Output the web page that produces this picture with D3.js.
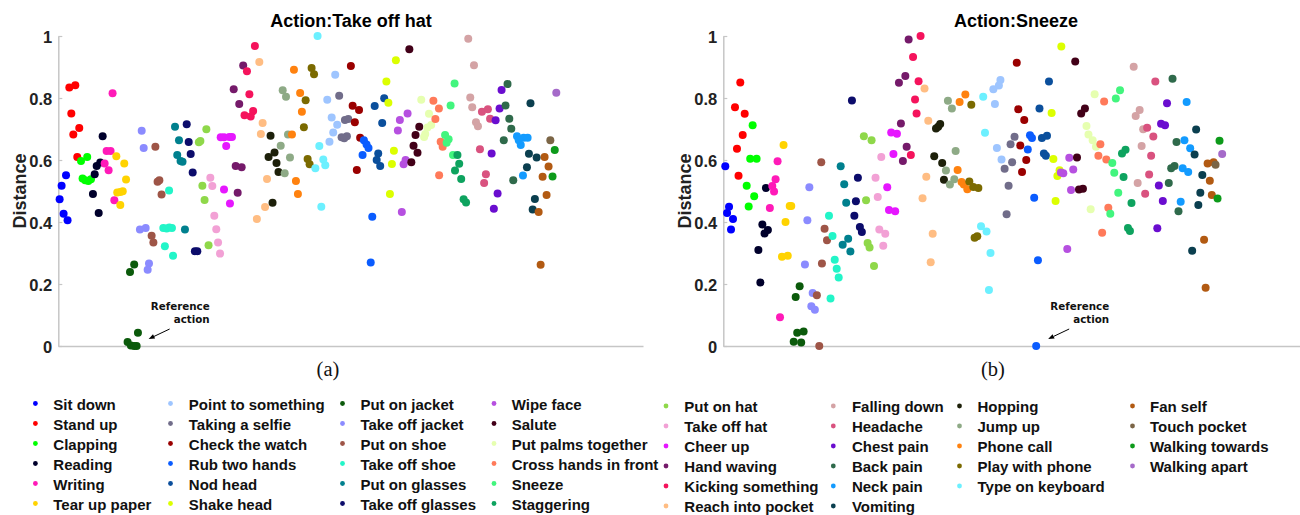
<!DOCTYPE html>
<html>
<head>
<meta charset="utf-8">
<script src="https://cdn.jsdelivr.net/npm/d3@7"></script>
<style>
  body { margin: 0; background: #fff; }
  svg { display: block; }
</style>
</head>
<body>
<svg id="chart" width="1300" height="515"></svg>
<script>
// Action classes, in legend order (column by column)
const actions = [
  "Sit down", "Stand up", "Clapping", "Reading", "Writing", "Tear up paper",
  "Point to something", "Taking a selfie", "Check the watch", "Rub two hands", "Nod head", "Shake head",
  "Put on jacket", "Take off jacket", "Put on shoe", "Take off shoe", "Put on glasses", "Take off glasses",
  "Wipe face", "Salute", "Put palms together", "Cross hands in front", "Sneeze", "Staggering",
  "Put on hat", "Take off hat", "Cheer up", "Hand waving", "Kicking something", "Reach into pocket",
  "Falling down", "Headache", "Chest pain", "Back pain", "Neck pain", "Vomiting",
  "Hopping", "Jump up", "Phone call", "Play with phone", "Type on keyboard",
  "Fan self", "Touch pocket", "Walking towards", "Walking apart"
];

const colors = [
  "#0000ff", "#ff0000", "#00ff00", "#00002b", "#ff1ab8", "#ffd300",
  "#9ec5ff", "#716d8a", "#9a0000", "#0a5cff", "#0b4f9c", "#dcff00",
  "#0b5a0b", "#8b8bff", "#9e5547", "#22f5c8", "#00808e", "#0c0c6b",
  "#b650e0", "#420018", "#e6ffb0", "#ff7a5a", "#42f57e", "#0ea35f",
  "#8fd84a", "#f2a1d5", "#e617ff", "#751a6a", "#f5135c", "#ffbd83",
  "#d4a3a5", "#d9527f", "#6a0dcf", "#2f6a4b", "#139bff", "#0b3f4f",
  "#1d200a", "#8eaa86", "#ff820f", "#7b6a00", "#6cf0ff",
  "#b25a12", "#7b6546", "#0d9a1a", "#a56ac9"
];

// Number of legend entries in each legend column
const legendColumns = [6, 6, 6, 6, 6, 6, 5, 4];

const yTicks = [0, 0.2, 0.4, 0.6, 0.8, 1];

// Distances to "Take off hat": one list of [sample, distance] per action
const distTakeOffHat = [
  [[0.6,.473],[1.5,.517],[3.5,.551],[2.4,.427],[4.2,.406]],
  [[5.0,.834],[7.7,.841],[5.9,.750],[6.8,.682],[9.5,.703],[8.6,.610]],
  [[10.3,.597],[13.1,.610],[11.0,.540],[12.2,.535],[13.6,.532],[14.8,.538]],
  [[15.7,.490],[16.5,.554],[17.4,.581],[18.3,.429],[19.0,.592],[20.1,.677]],
  [[21.0,.589],[21.9,.629],[23.7,.629],[22.8,.567],[24.6,.815],[25.4,.470]],
  [[26.3,.612],[26.7,.495],[28.1,.455],[28.1,.497],[29.2,.499],[29.9,.589],[30.7,.537]],
  [[125.5,.875],[121.9,.794],[123.9,.737],[126.4,.714],[124.6,.689],[122.9,.659]],
  [[127.3,.807],[129.9,.729],[131.4,.732],[128.4,.673],[129.6,.670],[130.8,.677]],
  [[132.6,.903],[133.4,.775],[136.3,.761],[134.4,.722],[136.8,.672],[135.3,.568]],
  [[138.5,.664],[139.7,.650],[140.6,.639],[137.9,.616],[142.3,.417],[141.6,.269]],
  [[143.4,.774],[147.7,.799],[146.8,.719],[145.0,.621],[144.3,.600],[145.9,.581]],
  [[153.0,.922],[148.7,.853],[149.6,.785],[152.1,.630],[151.2,.587],[150.3,.490]],
  [[32.5,.239],[34.4,.263],[31.4,.013],[32.9,.002],[34.4,0],[35.5,0],[36.1,.043]],
  [[37.8,.694],[38.7,.639],[37.0,.376],[39.6,.381],[41.1,.266],[40.5,.246]],
  [[44.0,.643],[45.0,.530],[45.8,.535],[46.8,.489],[42.3,.356],[43.1,.334]],
  [[47.6,.381],[49.1,.379],[50.3,.382],[51.5,.381],[48.3,.322],[52.0,.291],[50.2,.502]],
  [[52.9,.707],[54.7,.664],[53.9,.616],[55.4,.597],[56.3,.594],[57.4,.376]],
  [[58.2,.715],[59.1,.658],[60.0,.619],[60.9,.560],[61.9,.306],[63.0,.306]],
  [[158.3,.750],[154.8,.729],[153.9,.695],[157.4,.600],[156.5,.586],[155.7,.432]],
  [[159.1,.957],[163.6,.707],[161.9,.681],[161.0,.646],[162.8,.623],[160.0,.593]],
  [[164.5,.794],[168.0,.749],[169.0,.713],[167.3,.705],[166.3,.684],[165.8,.674]],
  [[170.0,.791],[172.5,.766],[170.9,.732],[173.3,.659],[174.2,.643],[172.6,.551]],
  [[179.6,.847],[177.8,.776],[175.3,.681],[176.9,.667],[176.0,.656],[178.9,.616]],
  [[180.9,.616],[181.7,.588],[179.8,.566],[182.6,.539],[183.7,.473],[184.8,.463]],
  [[63.7,.657],[64.4,.661],[67.1,.699],[65.3,.517],[66.3,.471],[68.1,.325]],
  [[68.9,.543],[69.8,.516],[70.7,.420],[71.6,.377],[72.4,.334],[73.3,.298]],
  [[73.6,.673],[75.1,.673],[77.5,.674],[78.7,.674],[76.1,.645],[75.1,.505],[77.8,.460]],
  [[79.5,.828],[82.0,.781],[83.8,.905],[80.4,.581],[83.1,.577],[81.3,.494]],
  [[89.1,.968],[85.5,.886],[86.6,.812],[84.4,.744],[88.3,.758],[87.2,.740]],
  [[91.1,.916],[92.6,.719],[91.8,.684],[94.6,.539],[93.7,.448],[90.0,.410]],
  [[185.8,.991],[188.4,.906],[186.7,.802],[187.6,.770],[189.3,.722],[190.2,.709]],
  [[192.0,.756],[194.7,.764],[195.7,.733],[191.1,.635],[193.8,.554],[193.0,.526]],
  [[200.9,.826],[200.0,.766],[198.2,.728],[196.4,.621],[199.1,.492],[197.4,.443]],
  [[203.6,.845],[202.7,.776],[204.4,.733],[205.3,.701],[201.9,.664],[206.2,.535]],
  [[207.9,.677],[210.9,.672],[212.7,.672],[209.6,.648],[208.7,.664],[210.6,.550]],
  [[214.0,.783],[213.3,.620],[216.8,.608],[212.4,.577],[216.0,.474],[215.0,.440]],
  [[96.2,.678],[95.3,.610],[98.0,.624],[98.9,.590],[99.8,.561],[97.1,.462]],
  [[101.7,.825],[103.2,.804],[100.8,.646],[104.1,.682],[105.0,.608],[102.6,.557]],
  [[106.8,.891],[109.6,.816],[110.4,.756],[105.9,.682],[107.7,.532],[108.6,.490]],
  [[114.8,.897],[115.9,.877],[112.1,.793],[111.3,.706],[113.0,.603],[113.9,.586]],
  [[117.5,1.0],[118.3,.645],[116.5,.573],[120.1,.602],[121.0,.583],[119.2,.449]],
  [[220.4,.610],[222.2,.579],[219.5,.546],[221.3,.487],[217.7,.432],[218.6,.262]],
  [[223.0,.664]],
  [[225.0,.632],[224.0,.547]],
  [[225.7,.817]]
];

// Distances to "Sneeze": one list of [sample, distance] per action
const distSneeze = [
  [[0.9,.580],[2.6,.449],[1.7,.429],[4.4,.410],[3.5,.376]],
  [[7.7,.850],[5.3,.770],[9.7,.749],[8.8,.681],[6.2,.636],[6.9,.549]],
  [[13.3,.712],[12.2,.604],[15.1,.604],[10.6,.517],[14.0,.483],[11.5,.450]],
  [[19.3,.510],[17.7,.392],[20.2,.374],[18.7,.363],[15.9,.310],[16.8,.205]],
  [[24.6,.596],[23.7,.538],[22.2,.516],[23.0,.498],[21.1,.445],[25.7,.093]],
  [[27.3,.648],[30.1,.452],[30.8,.452],[28.2,.400],[26.6,.288],[29.2,.291]],
  [[125.6,.858],[124.9,.840],[122.4,.828],[123.1,.781],[124.0,.639],[126.1,.602]],
  [[132.0,.675],[130.2,.651],[130.9,.593],[127.5,.572],[129.3,.517],[128.4,.425]],
  [[133.0,.914],[133.7,.764],[136.4,.729],[134.6,.647],[137.3,.600],[135.4,.561]],
  [[139.0,.680],[139.9,.671],[138.0,.634],[140.9,.478],[142.6,.277],[141.8,0]],
  [[147.6,.853],[143.3,.766],[144.4,.671],[146.7,.678],[145.3,.621],[146.2,.614]],
  [[153.2,.966],[148.8,.752],[149.6,.603],[152.4,.567],[151.4,.548],[150.6,.468]],
  [[34.6,.193],[32.8,.158],[33.5,.043],[36.4,.047],[31.9,.014],[35.3,.011]],
  [[39.0,.512],[38.1,.406],[37.0,.263],[40.5,.171],[39.9,.128],[41.5,.117]],
  [[44.4,.593],[45.9,.378],[47.0,.341],[44.7,.266],[42.4,.164],[43.5,0]],
  [[47.9,.420],[49.5,.355],[50.5,.278],[51.4,.249],[52.3,.221],[48.6,.153]],
  [[53.2,.580],[54.8,.522],[55.7,.462],[56.6,.346],[54.1,.327],[57.6,.305]],
  [[58.3,.792],[61.0,.543],[60.1,.467],[59.4,.420],[61.9,.384],[62.8,.368]],
  [[156.8,.607],[158.6,.569],[153.0,.560],[154.1,.557],[157.6,.503],[155.9,.313]],
  [[159.5,.918],[163.9,.766],[162.2,.750],[160.3,.608],[161.2,.505],[163.0,.507]],
  [[168.3,.812],[164.6,.710],[165.5,.682],[167.4,.664],[168.9,.643],[166.5,.441]],
  [[172.6,.789],[170.9,.651],[170.0,.614],[173.6,.602],[174.5,.446],[171.7,.365]],
  [[179.8,.825],[177.9,.798],[176.3,.590],[177.2,.559],[179.0,.494],[175.4,.427]],
  [[182.3,.633],[180.7,.621],[181.4,.545],[185.0,.461],[183.4,.381],[184.3,.371]],
  [[63.7,.677],[67.2,.664],[64.7,.470],[65.4,.332],[66.3,.318],[68.3,.258]],
  [[69.0,.543],[71.6,.610],[70.0,.481],[70.7,.376],[73.4,.362],[72.5,.323]],
  [[76.1,.689],[78.7,.685],[77.1,.619],[74.3,.512],[75.1,.439],[77.9,.435]],
  [[84.0,.989],[82.5,.871],[79.6,.849],[80.5,.718],[83.1,.643],[81.4,.597]],
  [[89.4,1.0],[86.0,.932],[88.5,.854],[86.9,.795],[87.6,.750],[85.0,.616]],
  [[91.2,.831],[92.9,.727],[92.0,.546],[90.3,.477],[94.9,.362],[94.0,.270]],
  [[186.0,.901],[188.7,.761],[186.9,.742],[190.3,.699],[189.6,.645],[187.8,.526]],
  [[195.8,.853],[192.1,.704],[194.9,.676],[193.9,.614],[193.0,.553],[191.2,.491]],
  [[201.1,.783],[198.4,.717],[200.2,.712],[197.4,.518],[199.2,.468],[196.7,.380]],
  [[203.6,.862],[205.4,.658],[204.5,.581],[203.0,.573],[201.9,.526],[206.3,.435]],
  [[210.0,.787],[209.0,.664],[211.6,.638],[208.2,.573],[210.7,.561],[207.3,.465]],
  [[214.3,.698],[213.6,.618],[217.1,.552],[216.2,.494],[215.3,.455],[212.5,.307]],
  [[96.4,.702],[97.4,.707],[98.3,.716],[95.6,.612],[99.2,.590],[100.0,.536]],
  [[101.8,.791],[103.6,.766],[105.3,.629],[100.9,.566],[104.7,.538],[102.7,.521]],
  [[109.7,.811],[107.1,.787],[106.2,.568],[108.0,.529],[109.0,.521],[110.6,.506]],
  [[112.4,.778],[111.5,.531],[113.3,.513],[115.6,.510],[113.9,.349],[115.1,.354]],
  [[117.8,.804],[118.6,.688],[116.8,.386],[119.3,.369],[121.1,.300],[120.4,.181]],
  [[219.5,.589],[222.2,.593],[220.5,.533],[221.4,.487],[217.9,.343],[218.6,.188]],
  [[223.1,.585]],
  [[224.9,.662],[224.0,.476]],
  [[226.1,.619]]
];

const svg = d3.select("#chart");
const FONT = "'Liberation Sans', Arial, Helvetica, sans-serif";
const AXIS_GRAY = "#c6c6c6";

const panels = [
  { title: "Action:Take off hat", tag: "(a)", data: distTakeOffHat,
    x0: 58.3, x1: 643, titleX: 351, tagX: 328, labelX: 25.5, refAction: 12, refPoint: 5 },
  { title: "Action:Sneeze", tag: "(b)", data: distSneeze,
    x0: 723.3, x1: 1308, titleX: 1016, tagX: 993, labelX: 690.5, refAction: 9, refPoint: 5 }
];

const y = d3.scaleLinear().domain([0, 1]).range([346, 36]);

panels.forEach(p => {
  const x = d3.scaleLinear().domain([0, 265]).range([p.x0, p.x1]);
  const g = svg.append("g");

  // baseline (x axis without ticks)
  const xAxis = g.append("g")
    .attr("transform", `translate(0,${y(0)})`)
    .call(d3.axisBottom(x).tickValues([]).tickSizeOuter(0));
  xAxis.select(".domain").attr("stroke", AXIS_GRAY).attr("stroke-width", 1.5);

  // y axis with inward ticks
  const yAxis = g.append("g")
    .attr("transform", `translate(${p.x0},0)`)
    .call(d3.axisLeft(y).tickValues(yTicks).tickSizeInner(-4).tickSizeOuter(0).tickPadding(6)
      .tickFormat(d => (d === 0 || d === 1) ? String(d) : d3.format(".1f")(d)));
  yAxis.select(".domain").attr("stroke", AXIS_GRAY).attr("stroke-width", 1.5);
  yAxis.selectAll(".tick line").attr("stroke", AXIS_GRAY).attr("stroke-width", 1.2);
  yAxis.selectAll(".tick text")
    .attr("font-family", FONT).attr("font-weight", "bold").attr("font-size", 16.5)
    .attr("fill", "#222").attr("dy", "0.42em");

  // axis label
  g.append("text")
    .attr("transform", `translate(${p.labelX},191) rotate(-90)`)
    .attr("text-anchor", "middle")
    .attr("font-family", FONT).attr("font-weight", "bold").attr("font-size", 18)
    .attr("fill", "#222")
    .text("Distance");

  // title
  g.append("text")
    .attr("x", p.titleX).attr("y", 26.5)
    .attr("text-anchor", "middle")
    .attr("font-family", FONT).attr("font-weight", "bold").attr("font-size", 18)
    .attr("fill", "#000")
    .text(p.title);

  // points
  p.data.forEach((pts, ci) => {
    g.append("g").selectAll("circle")
      .data(pts).join("circle")
      .attr("cx", d => x(d[0]))
      .attr("cy", d => y(d[1]))
      .attr("r", 4)
      .attr("fill", colors[ci]);
  });

  // "Reference action" annotation next to the zero-distance sample
  const ref = p.data[p.refAction][p.refPoint];
  const rx = x(ref[0]), ry = y(ref[1]);
  const tail = [rx + 33, ry - 17], head = [rx + 12, ry - 7];
  const ang = Math.atan2(head[1] - tail[1], head[0] - tail[0]);
  const L = 6, W = 2.4;
  const bx = head[0] - L * Math.cos(ang), by = head[1] - L * Math.sin(ang);
  g.append("line")
    .attr("x1", tail[0]).attr("y1", tail[1]).attr("x2", bx).attr("y2", by)
    .attr("stroke", "#000").attr("stroke-width", 1);
  g.append("path")
    .attr("d", `M${head[0]},${head[1]}L${bx - W * Math.sin(ang)},${by + W * Math.cos(ang)}L${bx + W * Math.sin(ang)},${by - W * Math.cos(ang)}Z`)
    .attr("fill", "#000");
  const note = g.append("text")
    .attr("text-anchor", "end")
    .attr("font-family", "'DejaVu Sans', sans-serif").attr("font-weight", "bold").attr("font-size", 10.3)
    .attr("fill", "#111");
  note.append("tspan").attr("x", rx + 73).attr("y", ry - 36).text("Reference");
  note.append("tspan").attr("x", rx + 73).attr("y", ry - 23).text("action");

  // sub-figure tag
  g.append("text")
    .attr("x", p.tagX).attr("y", 375.5)
    .attr("text-anchor", "middle")
    .attr("font-family", "'Liberation Serif', 'DejaVu Serif', serif").attr("font-size", 20.5)
    .attr("fill", "#111")
    .text(p.tag);
});

// Legend
const colMarkerX = [35.4, 170.5, 342.5, 494, 666, 833.3, 959.5, 1132.5];
const colTextX = [53.3, 188.8, 360.4, 511.7, 684.3, 851.9, 977.5, 1150];
const legend = svg.append("g");
let k = 0;
legendColumns.forEach((n, c) => {
  const base = c < 4 ? 409.5 : 412;
  for (let r = 0; r < n; r++, k++) {
    const yy = base + r * 20;
    legend.append("circle")
      .attr("cx", colMarkerX[c]).attr("cy", yy - 6).attr("r", 2.4)
      .attr("fill", colors[k]);
    legend.append("text")
      .attr("x", colTextX[c]).attr("y", yy)
      .attr("font-family", FONT).attr("font-weight", "bold").attr("font-size", 15)
      .attr("fill", "#111")
      .text(actions[k]);
  }
});
</script>
</body>
</html>
